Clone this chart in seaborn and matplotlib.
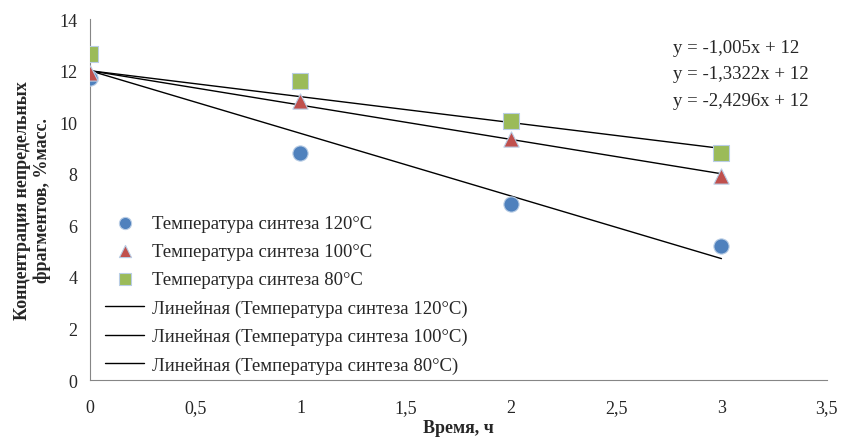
import matplotlib
matplotlib.use('Agg')
import matplotlib.pyplot as plt
import numpy as np
import pandas as pd
import seaborn as sns

sns.set_style('white')
plt.rcParams['font.family'] = ['Liberation Serif', 'DejaVu Serif']

# время синтеза, ч
time_h = [0, 1, 2, 3]
conc_120 = [11.7, 8.8, 6.82, 5.19]
conc_100 = [11.9, 10.82, 9.35, 7.9]
conc_80 = [12.65, 11.6, 10.05, 8.8]

labels = ['Температура синтеза 120°C', 'Температура синтеза 100°C', 'Температура синтеза 80°C']
# коэффициенты линий тренда (из уравнений на графике)
slopes = [-2.4296, -1.3322, -1.005]
intercept = 12
equations = ['y = -1,005x + 12', 'y = -1,3322x + 12', 'y = -2,4296x + 12']

colors = ['#4F81BD', '#C0504D', '#9BBB59']
markers = ['o', '^', 's']

df = pd.DataFrame({
    'time': time_h * 3,
    'conc': conc_120 + conc_100 + conc_80,
    'series': [labels[0]] * 4 + [labels[1]] * 4 + [labels[2]] * 4,
})

fig = plt.figure(figsize=(8.41, 4.39), dpi=100)
ax = fig.add_axes([0.107, 0.132, 0.876, 0.822])

for i, lab in enumerate(labels):
    sub = df[df.series == lab]
    sns.scatterplot(data=sub, x='time', y='conc', ax=ax, color=colors[i], marker=markers[i],
                    s=120, edgecolor='#B9CDE5', linewidth=0.8, label=lab, zorder=3)

for i, lab in enumerate(labels):
    xs = np.array([0, 3])
    trend = pd.DataFrame({'x': xs, 'y': slopes[i] * xs + intercept})
    sns.lineplot(data=trend, x='x', y='y', ax=ax, color='black', linewidth=1.0,
                 label='Линейная (' + lab + ')', zorder=2)

ax.set_xlim(0, 3.5)
ax.set_ylim(0, 14)
ax.set_xticks(np.arange(0, 3.51, 0.5))
ax.set_xticklabels([f'{v:g}'.replace('.', ',') for v in np.arange(0, 3.51, 0.5)])
ax.set_yticks(range(0, 15, 2))
ax.tick_params(direction='in', length=5, color='#868686', labelsize=13)
ax.tick_params(axis='x', pad=14)
ax.tick_params(axis='y', pad=9)
for side in ['top', 'right']:
    ax.spines[side].set_visible(False)
for side in ['left', 'bottom']:
    ax.spines[side].set_color('#868686')

ax.set_xlabel('Время, ч', fontsize=13, fontweight='bold', labelpad=2)
ax.set_ylabel('Концентрация непредельных\nфрагментов, %масс.', fontsize=13, fontweight='bold',
              labelpad=6)

for k, eq in enumerate(equations):
    ax.text(0.791, 0.922 - k * 0.073, eq, transform=ax.transAxes, fontsize=13.5, va='center')

ax.legend(loc='upper left', bbox_to_anchor=(0.005, 0.49), frameon=False, fontsize=13.5,
          handlelength=2.1, handletextpad=0.4, labelspacing=0.6, borderaxespad=0.2,
          markerscale=0.8)

fig.savefig('out.png', dpi=100)
